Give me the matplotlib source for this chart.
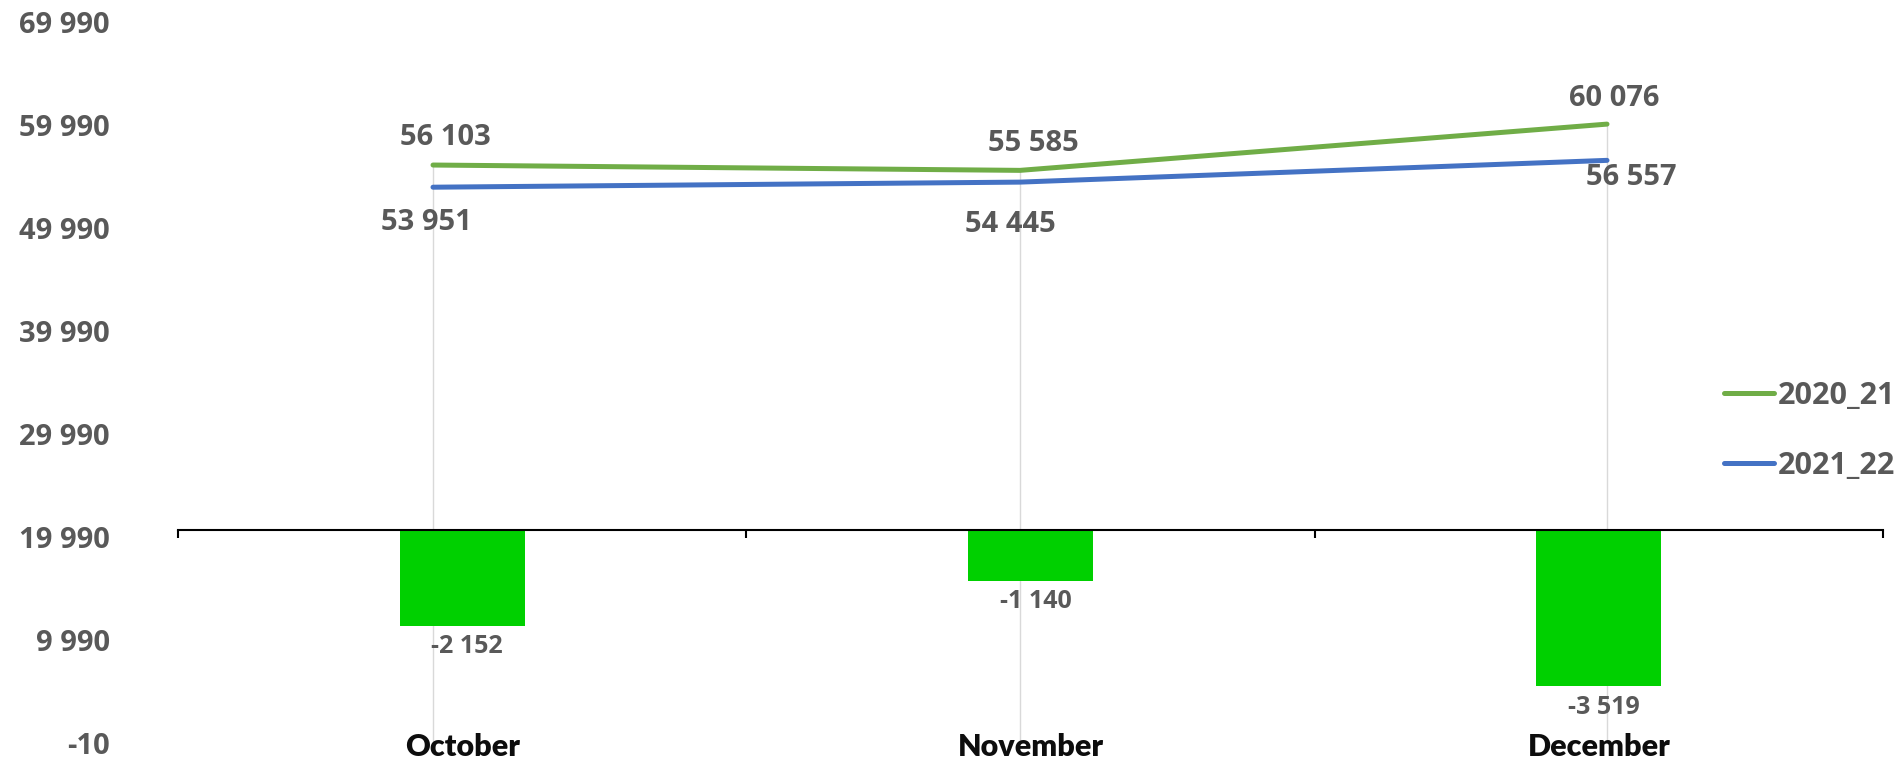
import numpy as np
import matplotlib
matplotlib.use("Agg")
import matplotlib.pyplot as plt
import matplotlib.transforms as mtransforms

# data
months = ["October", "November", "December"]
series_2020_21 = [56103, 55585, 60076]
series_2021_22 = [53951, 54445, 56557]
difference = [-2152, -1140, -3519]
y_ticks = [-10, 9990, 19990, 29990, 39990, 49990, 59990, 69990]

# label offsets (pixels, dx, dy) for the line labels
off_2020_21 = [(12, 28), (13, 27), (7, 26)]
off_2021_22 = [(-7, -35), (-10, -42), (24, -17)]

W, H = 1901, 763
px = 0.72  # points per pixel at dpi 100

def fmt(v):
    return f"{v:,}".replace(",", " ")

num_font = dict(family="Open Sans", weight="bold", color="#595959")

fig = plt.figure(figsize=(W / 100, H / 100), dpi=100)
rect = [178 / W, 20 / H, (1883 - 178) / W, (743 - 22) / H]

# lines axis
ax = fig.add_axes(rect, label="lines")
x = np.arange(len(months))
ax.set_xlim((178 - 433) / 587, (1883 - 433) / 587)
ax.set_ylim(-10, 69990)
for s in ax.spines.values():
    s.set_visible(False)
ax.set_xticks([])
ax.set_yticks(y_ticks)
ax.set_yticklabels([fmt(v) for v in y_ticks], fontsize=21, **num_font)
ax.tick_params(axis="y", length=0, pad=49)

tops = np.maximum(series_2020_21, series_2021_22)
ax.vlines(x, -10, tops, color="#D9D9D9", lw=1, zorder=1)

l1, = ax.plot(x, series_2020_21, color="#70AD47", lw=3.6, solid_capstyle="round", zorder=3, label="2020_21")
l2, = ax.plot(x, series_2021_22, color="#4472C4", lw=3.6, solid_capstyle="round", zorder=3, label="2021_22")

for i in range(len(months)):
    ax.annotate(fmt(series_2020_21[i]), (x[i], series_2020_21[i]),
                xytext=(off_2020_21[i][0] * px, off_2020_21[i][1] * px), textcoords="offset points",
                ha="center", va="center", fontsize=21, **num_font)
    ax.annotate(fmt(series_2021_22[i]), (x[i], series_2021_22[i]),
                xytext=(off_2021_22[i][0] * px, off_2021_22[i][1] * px), textcoords="offset points",
                ha="center", va="center", fontsize=21, **num_font)

# bars axis (secondary)
ax2 = fig.add_axes(rect, label="bars")
ax2.patch.set_visible(False)
ax2.set_xlim(-0.5, 2.5)
ax2.set_ylim(-4797, 11441)
bars = ax2.bar(x, difference, width=0.22, color="#00D000", zorder=2)
for s in ["top", "left", "right"]:
    ax2.spines[s].set_visible(False)
ax2.spines["bottom"].set_position(("data", 0))
ax2.spines["bottom"].set_linewidth(1.5)
ax2.spines["bottom"].set_zorder(3)
ax2.set_yticks([])
ax2.set_xticks([-0.5, 0.5, 1.5, 2.5])
ax2.set_xticklabels([])
ax2.tick_params(axis="x", direction="out", length=6, width=1.5)

for i, v in enumerate(difference):
    ax2.annotate(fmt(v), (x[i], v), xytext=(5 * px, -21 * px), textcoords="offset points",
                 ha="center", va="center", fontsize=18, **num_font)

trans = mtransforms.blended_transform_factory(ax2.transData, fig.transFigure)
for i, m in enumerate(months):
    ax2.text(i, (H - 747) / H, m, transform=trans, ha="center", va="center",
             fontsize=22, family="Lato", weight="heavy", color="#0D0D0D")

leg = fig.legend(handles=[l1, l2], loc="center left", bbox_to_anchor=(1724 / W, 1 - 431 / H),
                 frameon=False, borderpad=0, borderaxespad=0, handlelength=1.65, handletextpad=0.12,
                 labelspacing=1.3, prop=dict(family="Open Sans", weight="bold", size=22))
for t in leg.get_texts():
    t.set_color("#595959")

fig.savefig("out.png", dpi=100)
